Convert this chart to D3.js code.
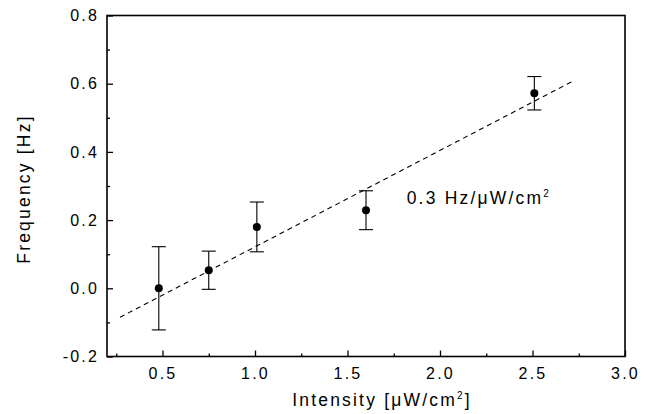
<!DOCTYPE html>
<html>
<head>
<meta charset="utf-8">
<script src="https://cdn.jsdelivr.net/npm/d3@7"></script>
<style>
  body { margin: 0; background: #fff; }
  svg { display: block; }
  .tick text { font-family: "Liberation Sans", Arial, sans-serif; font-size: 16px; letter-spacing: 2.2px; fill: #000; }
  .axis-title, .note { font-family: "Liberation Sans", Arial, sans-serif; font-size: 17.5px; letter-spacing: 2.2px; fill: #000; }
</style>
</head>
<body>
<svg id="chart"></svg>
<script>
// measured points: intensity, frequency and error half-width
const intensity = [0.48, 0.75, 1.01, 1.60, 2.51];
const frequency = [0.0, 0.053, 0.18, 0.229, 0.572];
const errHalf = [0.122, 0.056, 0.073, 0.057, 0.049];

// dashed fit line endpoints (slope ~0.3 Hz per uW/cm2)
const fitX = [0.27, 2.72];
const fitY = [-0.085, 0.608];

const xMajor = [0.5, 1.0, 1.5, 2.0, 2.5, 3.0];
const xMinor = [0.25, 0.75, 1.25, 1.75, 2.25, 2.75];
const yMajor = [-0.2, 0.0, 0.2, 0.4, 0.6, 0.8];
const yMinor = [-0.1, 0.1, 0.3, 0.5, 0.7];

const config = {
  width: 652,
  height: 414,
  margin: {top: 15.5, right: 27, bottom: 57.5, left: 107}
};

// plain hyphen minus like the original figure
const fmt = d => d.toFixed(1);

const svg = d3.select('#chart')
    .attr('width', config.width)
    .attr('height', config.height);

const innerW = config.width - config.margin.left - config.margin.right;
const innerH = config.height - config.margin.top - config.margin.bottom;

const chart = svg.append('g')
    .attr('transform', `translate(${config.margin.left},${config.margin.top})`);

const xScale = d3.scaleLinear().domain([0.2, 3.0]).range([0, innerW]);
const yScale = d3.scaleLinear().domain([-0.2, 0.8]).range([innerH, 0]);

// axes with inward ticks
chart.append('g')
    .attr('transform', `translate(0,${innerH})`)
    .call(d3.axisBottom(xScale).tickValues(xMajor).tickFormat(fmt)
      .tickSizeInner(-6).tickSizeOuter(0).tickPadding(11));
chart.append('g')
    .attr('transform', `translate(0,${innerH})`)
    .call(d3.axisBottom(xScale).tickValues(xMinor).tickFormat('')
      .tickSizeInner(-3).tickSizeOuter(0));

chart.append('g')
    .call(d3.axisLeft(yScale).tickValues(yMajor).tickFormat(fmt)
      .tickSizeInner(-6).tickSizeOuter(0).tickPadding(8));
chart.append('g')
    .call(d3.axisLeft(yScale).tickValues(yMinor).tickFormat('')
      .tickSizeInner(-3).tickSizeOuter(0));

chart.selectAll('.domain').remove();
chart.selectAll('.tick line').attr('stroke', '#000').attr('stroke-width', 1.3);

// frame
chart.append('rect')
    .attr('x', 0).attr('y', 0)
    .attr('width', innerW).attr('height', innerH)
    .attr('fill', 'none')
    .attr('stroke', '#000')
    .attr('stroke-width', 1.6);

// fit line
chart.append('line')
    .attr('x1', xScale(fitX[0])).attr('y1', yScale(fitY[0]))
    .attr('x2', xScale(fitX[1])).attr('y2', yScale(fitY[1]))
    .attr('stroke', '#000')
    .attr('stroke-width', 1.1)
    .attr('stroke-dasharray', '5,4');

const data = intensity.map((x, i) => ({x: x, y: frequency[i], e: errHalf[i]}));

// error bars
const bars = chart.selectAll('.err')
    .data(data)
  .join('g')
    .attr('class', 'err')
    .attr('stroke', '#000')
    .attr('stroke-width', 1.1);
bars.append('line')
    .attr('x1', d => xScale(d.x)).attr('x2', d => xScale(d.x))
    .attr('y1', d => yScale(d.y + d.e)).attr('y2', d => yScale(d.y - d.e));
bars.append('line')
    .attr('x1', d => xScale(d.x) - 7).attr('x2', d => xScale(d.x) + 7)
    .attr('y1', d => yScale(d.y + d.e)).attr('y2', d => yScale(d.y + d.e));
bars.append('line')
    .attr('x1', d => xScale(d.x) - 7).attr('x2', d => xScale(d.x) + 7)
    .attr('y1', d => yScale(d.y - d.e)).attr('y2', d => yScale(d.y - d.e));

chart.selectAll('.point')
    .data(data)
  .join('circle')
    .attr('class', 'point')
    .attr('r', 4)
    .attr('cx', d => xScale(d.x))
    .attr('cy', d => yScale(d.y))
    .attr('fill', '#000');

// annotation
const note = chart.append('text')
    .attr('class', 'note')
    .attr('x', xScale(1.82))
    .attr('y', yScale(0.246));
note.append('tspan').text('0.3 Hz/\u03bcW/cm');
note.append('tspan').attr('dy', -7).style('font-size', '10px').text('2');

// axis titles
const xt = svg.append('text')
    .attr('class', 'axis-title')
    .attr('x', config.margin.left + innerW / 2 + 16)
    .attr('y', 406)
    .style('text-anchor', 'middle');
xt.append('tspan').text('Intensity [\u03bcW/cm');
xt.append('tspan').attr('dy', -7).style('font-size', '10px').text('2');
xt.append('tspan').attr('dy', 7).text(']');

svg.append('text')
    .attr('class', 'axis-title')
    .attr('transform', `translate(30,${config.margin.top + innerH / 2 + 3}) rotate(-90)`)
    .style('text-anchor', 'middle')
    .text('Frequency [Hz]');
</script>
</body>
</html>
